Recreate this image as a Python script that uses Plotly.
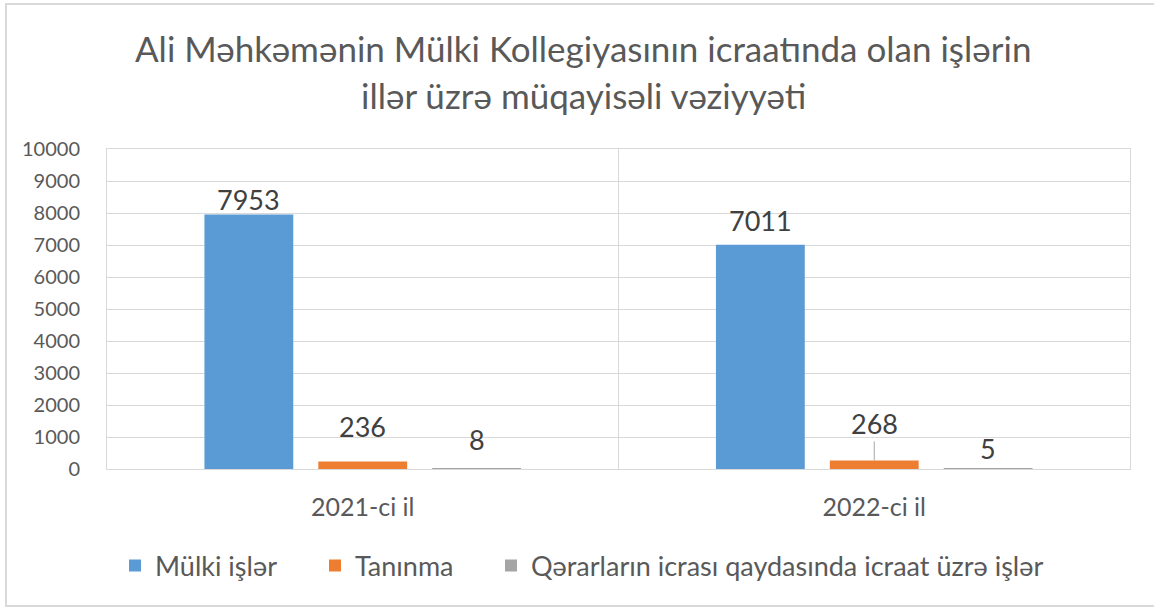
import plotly.graph_objects as go

# ---- data ----
categories = ["2021-ci il", "2022-ci il"]
series_names = ["Mülki işlər", "Tanınma", "Qərarların icrası qaydasında icraat üzrə işlər"]
mulki_isler = [7953, 7011]
taninma = [236, 268]
qerarlarin_icrasi = [8, 5]
y_tick_values = [0, 1000, 2000, 3000, 4000, 5000, 6000, 7000, 8000, 9000, 10000]
title_lines = ["Ali Məhkəmənin Mülki Kollegiyasının icraatında olan işlərin",
               "illər üzrə müqayisəli vəziyyəti"]

# ---- style ----
W, H = 1154, 608
ML, MR, MT, MB = 107, 24, 149, 139
PW, PH = W - ML - MR, H - MT - MB
FONT = "Lato, 'Open Sans', sans-serif"
TXT = "#595959"
GRID = "#D9D9D9"
colors = ["#5B9BD5", "#ED7D31", "#A5A5A5"]
# label offsets in pixels (text centre relative to bar top), per series / category
label_ay = [[-15, -24], [-35, -37], [-29, -20]]
leader_line = [[False, False], [False, True], [False, False]]
BARGAP = 0.332
BARGROUPGAP = 0.22
title_centre_px = [(583, 48), (583, 95)]
legend_left_px = [115, 315, 491]
LEGEND_Y_PX = 566


def px_x(x):
    return (x - ML) / PW


def px_y(y):
    return (H - MB - y) / PH


series_values = [mulki_isler, taninma, qerarlarin_icrasi]
xpos = list(range(len(categories)))
legend_ids = ["legend", "legend2", "legend3"]

fig = go.Figure()
for name, vals, col, lg in zip(series_names, series_values, colors, legend_ids):
    fig.add_trace(go.Bar(x=xpos, y=vals, name=name, legend=lg, marker_color=col,
                         marker_line_width=0, hoverinfo="skip"))

slot = (1 - BARGAP) / len(series_values)
annotations = []
for k, vals in enumerate(series_values):
    off = (k - (len(series_values) - 1) / 2) * slot
    for i, v in enumerate(vals):
        annotations.append(dict(
            x=xpos[i] + off, y=v, xref="x", yref="y", text=str(v),
            showarrow=True, ax=0, ay=label_ay[k][i], arrowhead=0, standoff=0,
            arrowwidth=1, arrowcolor="#A6A6A6" if leader_line[k][i] else "rgba(0,0,0,0)",
            font=dict(family=FONT, size=27, color="#404040")))

for line, (cx, cy) in zip(title_lines, title_centre_px):
    annotations.append(dict(text=line, xref="paper", yref="paper", x=px_x(cx), y=px_y(cy),
                            xanchor="center", yanchor="middle", showarrow=False,
                            font=dict(family=FONT, size=35, color=TXT)))

legend_layout = {}
for lg, lx in zip(legend_ids, legend_left_px):
    legend_layout[lg] = dict(orientation="h", x=lx / W, xref="container", xanchor="left",
                             y=1 - LEGEND_Y_PX / H, yref="container", yanchor="middle",
                             font=dict(family=FONT, size=27, color=TXT),
                             itemclick=False, itemdoubleclick=False,
                             bgcolor="rgba(0,0,0,0)")

fig.update_layout(
    width=W, height=H,
    margin=dict(l=ML, r=MR, t=MT, b=MB),
    paper_bgcolor="white", plot_bgcolor="white",
    font=dict(family=FONT, color=TXT),
    barmode="group", bargap=BARGAP, bargroupgap=BARGROUPGAP,
    showlegend=True,
    annotations=annotations,
    shapes=[dict(type="rect", xref="paper", yref="paper",
                 x0=px_x(6), x1=px_x(W + 6), y0=px_y(606), y1=px_y(4),
                 line=dict(color=GRID, width=2), fillcolor="rgba(0,0,0,0)", layer="below")],
    **legend_layout,
)
fig.update_xaxes(range=[-0.5, len(categories) - 0.5], tickmode="array", tickvals=xpos,
                 ticktext=categories, showgrid=False, zeroline=False, showline=True,
                 mirror=True, linecolor=GRID, ticks="", tickfont=dict(size=25, color=TXT),
                 minor=dict(tickmode="linear", tick0=-0.5, dtick=1, showgrid=True,
                            gridcolor=GRID, gridwidth=1, ticks=""),
                 ticklabelstandoff=16, fixedrange=True)
fig.update_yaxes(range=[0, 10000], tickmode="array", tickvals=y_tick_values,
                 ticktext=[str(v) for v in y_tick_values],
                 showgrid=True, gridcolor=GRID, gridwidth=1, zeroline=False,
                 showline=True, mirror=True, linecolor=GRID, ticks="",
                 tickfont=dict(size=20, color=TXT), ticklabelstandoff=22, fixedrange=True)

fig.write_html("out.html", config={"displayModeBar": False},
               post_script="document.body.style.margin='0';")
